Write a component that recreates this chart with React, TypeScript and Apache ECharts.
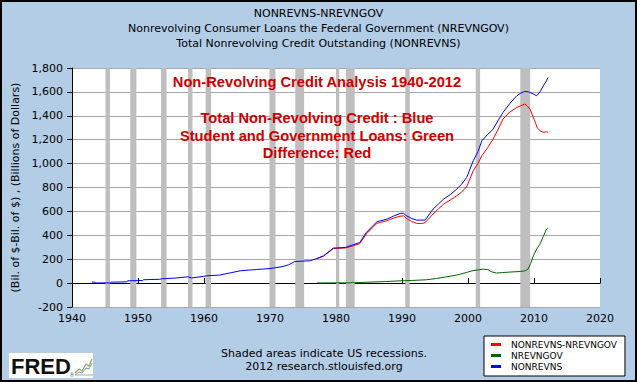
import React, { useEffect, useRef } from "react";
import * as echarts from "echarts";

const titleLines = [
  "NONREVNS-NREVNGOV",
  "Nonrevolving Consumer Loans the Federal Government (NREVNGOV)",
  "Total Nonrevolving Credit Outstanding (NONREVNS)",
];

const annotationLines = [
  "Non-Revolving Credit Analysis 1940-2012",
  "Total Non-Revolving Credit : Blue",
  "Student and Government Loans: Green",
  "Difference: Red",
];

const footerLines = ["Shaded areas indicate US recessions.", "2012 research.stlouisfed.org"];

const yAxisName = "(Bil. of $-Bil. of $) , (Billions of Dollars)";

const seriesNames = ["NONREVNS-NREVNGOV", "NREVNGOV", "NONREVNS"];

// [start, end] in decimal years
const recessions: [number, number][] = [
  [1945.08, 1945.75],
  [1948.83, 1949.75],
  [1953.5, 1954.33],
  [1957.58, 1958.25],
  [1960.25, 1961.08],
  [1969.92, 1970.83],
  [1973.83, 1975.17],
  [1980.0, 1980.5],
  [1981.5, 1982.83],
  [1990.5, 1991.17],
  [2001.17, 2001.83],
  [2007.92, 2009.42],
];

// NONREVNS (blue)
const nonrevns: [number, number][] = [
  [1943.0, 8], [1943.5, 8], [1943.6, 1], [1945.8, 2], [1945.9, 8], [1948.3, 10],
  [1948.4, 19], [1950.7, 22], [1950.8, 28], [1953.3, 32], [1953.6, 36], [1955.6, 42],
  [1957.6, 53], [1958.1, 43], [1959.9, 56], [1960.4, 61], [1962.4, 67], [1963.5, 80],
  [1965.5, 103], [1968.0, 114], [1970.0, 122], [1971.8, 137], [1972.8, 153], [1973.8, 181],
  [1975.0, 184], [1976.1, 187], [1977.1, 206], [1978.1, 228], [1979.6, 293], [1981.4, 298],
  [1982.6, 321], [1983.6, 340], [1984.6, 424], [1985.5, 475], [1986.2, 513], [1987.7, 535],
  [1988.7, 560], [1989.7, 583], [1990.2, 585], [1990.7, 563], [1991.5, 540], [1992.2, 527],
  [1993.5, 527], [1994.7, 619], [1995.5, 660], [1996.3, 703], [1997.3, 740], [1998.3, 787],
  [1999.0, 825], [1999.8, 884], [2000.8, 1024], [2001.5, 1100], [2002.1, 1191], [2003.0, 1245],
  [2003.8, 1289], [2004.5, 1355], [2005.3, 1428], [2006.3, 1500], [2007.4, 1568], [2008.0, 1590],
  [2008.6, 1604], [2009.2, 1600], [2009.9, 1582], [2010.4, 1568], [2010.9, 1600], [2011.4, 1650],
  [2011.9, 1693], [2012.1, 1720],
];

// NONREVNS-NREVNGOV (red)
const difference: [number, number][] = [
  [1977.1, 204], [1978.1, 225], [1979.6, 289], [1981.4, 294], [1982.6, 312], [1983.6, 330],
  [1984.6, 412], [1985.5, 462], [1986.2, 500], [1987.7, 522], [1988.7, 543], [1989.7, 560],
  [1990.2, 563], [1990.7, 540], [1991.5, 515], [1992.2, 500], [1993.0, 499], [1993.5, 505],
  [1994.7, 578], [1995.5, 620], [1996.3, 661], [1997.3, 695], [1998.3, 731], [1999.0, 760],
  [1999.8, 806], [2000.8, 940], [2001.5, 1000], [2002.1, 1066], [2003.0, 1135], [2003.8, 1205],
  [2004.5, 1280], [2005.3, 1373], [2006.3, 1430], [2007.4, 1470], [2008.0, 1485], [2008.6, 1498],
  [2009.0, 1482], [2009.4, 1456], [2009.8, 1400], [2010.1, 1358], [2010.5, 1300], [2010.9, 1275],
  [2011.4, 1262], [2011.9, 1266], [2012.1, 1262],
];

// NREVNGOV (green)
const nrevngov: [number, number][] = [
  [1977.1, 1], [1980.0, 2], [1982.2, 2], [1982.5, 7], [1982.8, 3], [1985.0, 8],
  [1987.5, 13], [1989.7, 19], [1991.5, 22], [1993.7, 28], [1995.2, 38], [1996.8, 53],
  [1998.2, 66], [1999.8, 89], [2000.6, 103], [2001.5, 110], [2002.3, 117], [2003.0, 113],
  [2003.5, 96], [2004.3, 84], [2005.2, 88], [2006.5, 93], [2007.9, 97], [2008.7, 104],
  [2009.1, 117], [2009.5, 165], [2009.9, 228], [2010.4, 285], [2010.9, 326], [2011.4, 390],
  [2011.9, 452], [2012.1, 462],
];

const FONT = "DejaVu Sans";

export default function App() {
  const ref = useRef<HTMLDivElement>(null);

  useEffect(() => {
    document.body.style.margin = "0";
    const chart = echarts.init(ref.current!, null, { renderer: "svg" });

    const lineSeries = (name: string, data: [number, number][], color: string, z: number) => ({
      name,
      type: "line",
      data,
      showSymbol: false,
      symbol: "none",
      lineStyle: { color, width: 1 },
      itemStyle: { color },
      z,
    });

    const option: any = {
      animation: false,
      backgroundColor: "#B4CDE6",
      title: {
        text: titleLines.join("\n"),
        left: "center",
        top: 1,
        textStyle: {
          fontFamily: FONT,
          fontSize: 11,
          fontWeight: "normal",
          color: "#000",
          lineHeight: 15,
        },
      },
      grid: { left: 72, top: 68, right: 37, bottom: 75, backgroundColor: "#fff", show: true, borderWidth: 0 },
      xAxis: {
        type: "value",
        min: 1940,
        max: 2020,
        interval: 10,
        axisLine: { show: true, lineStyle: { color: "#000", width: 1 } },
        axisTick: { show: true, inside: true, length: 5, lineStyle: { color: "#000" } },
        axisLabel: {
          color: "#000",
          fontFamily: FONT,
          fontSize: 11,
          margin: 6,
          formatter: (v: number) => String(v),
        },
        splitLine: { show: false },
      },
      yAxis: {
        type: "value",
        min: -200,
        max: 1800,
        interval: 200,
        name: yAxisName,
        nameLocation: "middle",
        nameGap: 47,
        nameRotate: 90,
        nameTextStyle: { fontFamily: FONT, fontSize: 11, color: "#000" },
        axisLine: { show: true, lineStyle: { color: "#000", width: 1 } },
        axisTick: { show: true, inside: false, length: 5, lineStyle: { color: "#000" } },
        axisLabel: {
          color: "#000",
          fontFamily: FONT,
          fontSize: 11,
          margin: 9,
          formatter: (v: number) => v.toLocaleString("en-US"),
        },
        splitLine: { show: true, lineStyle: { color: "#A8A8A8", width: 1 } },
      },
      legend: {
        orient: "vertical",
        left: 484,
        top: 336,
        backgroundColor: "#fff",
        borderColor: "#000",
        borderWidth: 1,
        borderRadius: 0,
        padding: [3, 8, 4, 7],
        itemGap: 0,
        itemWidth: 10,
        itemHeight: 3,
        icon: "rect",
        selectedMode: false,
        textStyle: { fontFamily: FONT, fontSize: 9, color: "#000", lineHeight: 11, padding: [0, 0, 0, 5] },
        data: seriesNames,
      },
      series: [
        {
          name: "recessions",
          type: "line",
          data: [],
          silent: true,
          z: 1,
          markArea: {
            silent: true,
            itemStyle: { color: "#BEBEBE", opacity: 1 },
            data: recessions.map(([s, e]) => [{ xAxis: s }, { xAxis: e }]),
          },
        },
        lineSeries(seriesNames[0], difference, "#FF0000", 3),
        lineSeries(seriesNames[1], nrevngov, "#006600", 3),
        lineSeries(seriesNames[2], nonrevns, "#0000FF", 4),
      ],
      graphic: [
        {
          type: "rect",
          shape: { x: 1, y: 1, width: 635, height: 380 },
          style: { fill: "none", stroke: "#000", lineWidth: 2 },
          silent: true,
          z: 100,
        },
        ...annotationLines.map((t, i) => ({
          type: "text",
          z: 50,
          style: {
            text: t,
            x: 317,
            y: [82, 118, 136, 153][i],
            textAlign: "center",
            textVerticalAlign: "middle",
            fontFamily: "Liberation Sans",
            fontWeight: "bold",
            fontSize: 14.7,
            fill: "#CC0000",
          },
        })),
        ...footerLines.map((t, i) => ({
          type: "text",
          style: {
            text: t,
            x: 324,
            y: [353, 366][i],
            textAlign: "center",
            textVerticalAlign: "middle",
            fontFamily: FONT,
            fontSize: 11,
            fill: "#000",
          },
        })),
        {
          type: "group",
          left: 9,
          top: 353,
          children: [
            { type: "rect", shape: { x: 0, y: 0, width: 84, height: 25 }, style: { fill: "#fff" } },
            {
              type: "text",
              style: {
                text: "FRED",
                x: 2,
                y: 13,
                textVerticalAlign: "middle",
                fontFamily: "Liberation Sans",
                fontWeight: "bold",
                fontSize: 22,
                fill: "#111",
              },
            },
            {
              type: "text",
              style: { text: "®", x: 61, y: 19, fontFamily: "Liberation Sans", fontSize: 5, fill: "#333" },
            },
            {
              type: "polyline",
              shape: { points: [[66, 20], [70, 16], [73, 18], [77, 11], [80, 13], [83, 6]] },
              style: { stroke: "#8AAA55", lineWidth: 1.2, fill: "none" },
            },
            {
              type: "polyline",
              shape: { points: [[66, 22], [70, 19], [73, 20], [77, 15], [80, 16], [83, 10]] },
              style: { stroke: "#7799BB", lineWidth: 1, fill: "none" },
            },
            {
              type: "line",
              shape: { x1: 66, y1: 22, x2: 84, y2: 22 },
              style: { stroke: "#AAAAAA", lineWidth: 1 },
            },
          ],
        },
      ],
    };

    chart.setOption(option);
    return () => chart.dispose();
  }, []);

  return <div ref={ref} style={{ width: 637, height: 382 }} />;
}
